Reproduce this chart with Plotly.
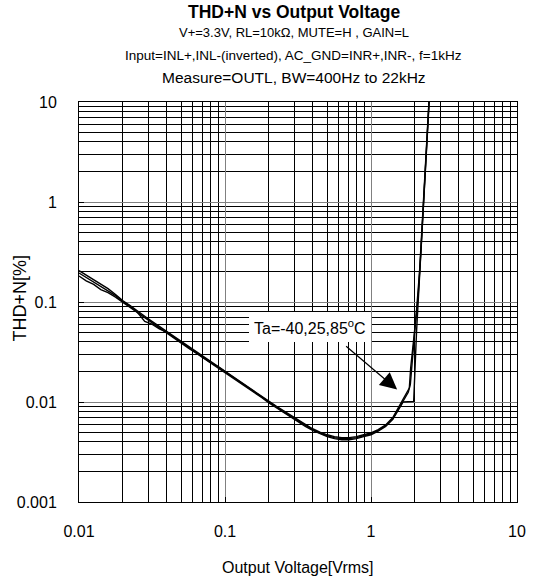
import plotly.graph_objects as go

# ---------------- data ----------------
volt_low = [0.010, 0.0112, 0.0126, 0.0141, 0.0158, 0.0178, 0.020, 0.0224, 0.0251, 0.0282,
            0.0316, 0.0355, 0.0398, 0.0447, 0.0501, 0.0562, 0.0631, 0.0708, 0.0794, 0.0891,
            0.100, 0.112, 0.126, 0.141, 0.158, 0.178, 0.200, 0.224, 0.251, 0.282,
            0.316, 0.355, 0.398, 0.447, 0.501, 0.562, 0.631, 0.708, 0.794, 0.891,
            1.00, 1.12, 1.26, 1.41, 1.58]

thd_m40_low = [0.206, 0.186, 0.168, 0.150, 0.136, 0.119, 0.103, 0.092, 0.081, 0.072,
               0.064, 0.057, 0.051, 0.0452, 0.0400, 0.0356, 0.0318, 0.0284, 0.0254, 0.0228,
               0.0204, 0.0182, 0.0162, 0.0144, 0.0128, 0.0114, 0.0102, 0.0091, 0.0082, 0.0074,
               0.0066, 0.0060, 0.0054, 0.0050, 0.0047, 0.0045, 0.0044, 0.0044, 0.0045, 0.0047,
               0.0049, 0.0053, 0.0059, 0.0070, 0.0093]
thd_25_low = [0.182, 0.163, 0.150, 0.133, 0.124, 0.112, 0.099, 0.088, 0.079, 0.070,
              0.062, 0.055, 0.049, 0.0438, 0.0388, 0.0346, 0.0309, 0.0276, 0.0247, 0.0221,
              0.0198, 0.0177, 0.0157, 0.0140, 0.0124, 0.0111, 0.0098, 0.0088, 0.0079, 0.0071,
              0.0063, 0.0057, 0.0052, 0.0048, 0.0045, 0.0043, 0.0042, 0.0042, 0.0043, 0.0045,
              0.0047, 0.0051, 0.0057, 0.0067, 0.0090]
thd_85_low = [0.195, 0.176, 0.160, 0.143, 0.130, 0.116, 0.101, 0.091, 0.079, 0.064,
              0.060, 0.054, 0.050, 0.0445, 0.0392, 0.0352, 0.0312, 0.0282, 0.0249, 0.0226,
              0.0201, 0.0180, 0.0160, 0.0142, 0.0126, 0.0113, 0.0100, 0.0090, 0.0080, 0.0072,
              0.0065, 0.0058, 0.0053, 0.0049, 0.0046, 0.0044, 0.0043, 0.0043, 0.0044, 0.0046,
              0.0048, 0.0052, 0.0058, 0.0068, 0.0091]

volt_m40_tail = [1.70, 1.83, 1.87, 1.93, 2.00, 2.10, 2.20, 2.30, 2.40, 2.50, 2.60]
thd_m40_tail = [0.0112, 0.0138, 0.022, 0.035, 0.055, 0.11, 0.33, 1.05, 3.3, 10.0, 30.0]
volt_25_tail = [1.66, 1.96, 2.00, 2.05, 2.10, 2.20, 2.30, 2.40, 2.51, 2.60]
thd_25_tail = [0.0100, 0.0101, 0.026, 0.050, 0.095, 0.30, 0.95, 3.0, 10.0, 28.0]
volt_85_tail = [1.70, 1.80, 1.86, 1.92, 1.98, 2.06, 2.15, 2.25, 2.35, 2.46, 2.56]
thd_85_tail = [0.0108, 0.0125, 0.015, 0.028, 0.050, 0.090, 0.20, 0.65, 2.0, 6.5, 20.0]

x_major = [0.01, 0.1, 1, 10]
x_labels = ["0.01", "0.1", "1", "10"]
y_major = [0.001, 0.01, 0.1, 1, 10]
y_labels = ["0.001", "0.01", "0.1", "1", "10"]
x_minor = [m * d for d in [0.01, 0.1, 1] for m in range(2, 10)]
y_minor = [m * d for d in [0.001, 0.01, 0.1, 1] for m in range(2, 10)]

title_lines = ["<b>THD+N vs Output Voltage</b>",
               "V+=3.3V, RL=10kΩ, MUTE=H , GAIN=L",
               "Input=INL+,INL-(inverted), AC_GND=INR+,INR-, f=1kHz",
               "Measure=OUTL, BW=400Hz to 22kHz"]
note_text = "Ta=-40,25,85<sup>o</sup>C"

# ---------------- figure ----------------
FONT = "Liberation Sans, Arial, sans-serif"
fig = go.Figure()
series = [(volt_low + volt_m40_tail, thd_m40_low + thd_m40_tail, "Ta=-40°C"),
          (volt_low + volt_25_tail, thd_25_low + thd_25_tail, "Ta=25°C"),
          (volt_low + volt_85_tail, thd_85_low + thd_85_tail, "Ta=85°C")]
for xs, ys, nm in series:
    fig.add_trace(go.Scatter(x=xs, y=ys, mode="lines", name=nm,
                             line=dict(color="black", width=1.4), showlegend=False))

axis_common = dict(type="log", showline=True, mirror=True, linecolor="black", linewidth=1,
                   ticks="inside", ticklen=5, tickcolor="black",
                   showgrid=True, gridcolor="#808080", gridwidth=1, zeroline=False,
                   tickfont=dict(family=FONT, size=16, color="black"))
fig.update_xaxes(range=[-2, 1], tickvals=x_major, ticktext=x_labels, ticklabelstandoff=15,
                 minor=dict(tickvals=x_minor, showgrid=True, gridcolor="black", gridwidth=1,
                            ticks=""),
                 **axis_common)
fig.update_yaxes(range=[-3, 1], tickvals=y_major, ticktext=y_labels, ticklabelstandoff=18,
                 minor=dict(tickvals=y_minor, showgrid=True, gridcolor="black", gridwidth=1,
                            ticks=""),
                 **axis_common)

PL, PR, PT, PB = 78.7, 525.7, 102.0, 502.0


def px_x(px):
    return (px - PL) / (PR - PL)


def px_y(py):
    return (PB - py) / (PB - PT)


ann = []
title_pos = [12, 33, 55, 77]
title_size = [17.5, 13, 13.5, 15.5]
for t, yy, sz in zip(title_lines, title_pos, title_size):
    ann.append(dict(text=t, x=px_x(298), y=px_y(yy), xref="paper", yref="paper",
                    showarrow=False, xanchor="center", yanchor="middle",
                    font=dict(family=FONT, size=sz, color="black")))
ann.append(dict(text="Output Voltage[Vrms]", x=px_x(302), y=px_y(567), xref="paper",
                yref="paper", showarrow=False, xanchor="center", yanchor="middle",
                font=dict(family=FONT, size=16, color="black")))
ann.append(dict(text="THD+N[%]", x=px_x(18), y=px_y(298), xref="paper", yref="paper",
                showarrow=False, xanchor="center", yanchor="middle", textangle=-90,
                font=dict(family=FONT, size=18, color="black")))
ann.append(dict(text=note_text, x=px_x(314), y=px_y(327), xref="paper", yref="paper",
                showarrow=False, xanchor="center", yanchor="middle", bgcolor="white",
                borderpad=5, borderwidth=0,
                font=dict(family=FONT, size=16, color="black")))
ann.append(dict(text="", x=0.179, y=-1.875, xref="x", yref="y", showarrow=True,
                ax=-52.5, ay=-44.5, arrowhead=2, arrowsize=2.8, arrowwidth=1.2,
                arrowcolor="black", standoff=0))
fig.update_layout(width=536, height=585, autosize=False,
                  margin=dict(l=PL, r=536 - PR, t=PT, b=585 - PB, pad=0),
                  paper_bgcolor="white", plot_bgcolor="white",
                  annotations=ann, showlegend=False)

fig.write_html("out.html", config={"displayModeBar": False},
               post_script="document.body.style.margin='0';document.body.style.overflow='hidden';")
